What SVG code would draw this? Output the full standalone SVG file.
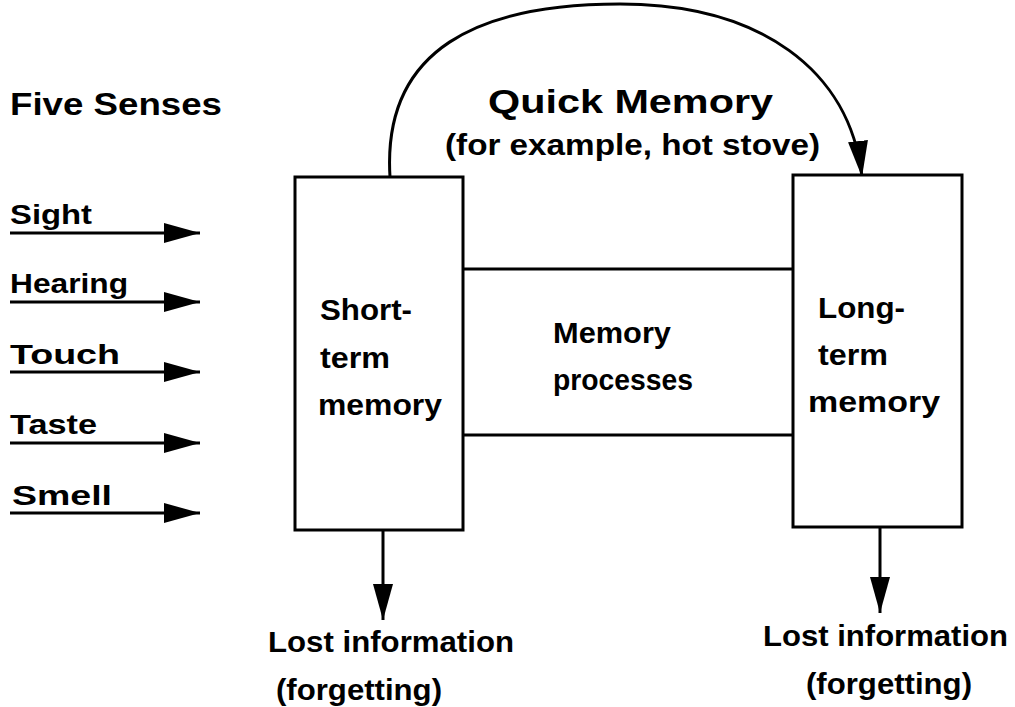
<svg xmlns="http://www.w3.org/2000/svg" width="1015" height="707" viewBox="0 0 1015 707">
<style>
text{font-family:"Liberation Sans",Arial,sans-serif;font-weight:bold;fill:#000}
.t{font-size:30px}
.s{font-size:28px}
.line{stroke:#000;stroke-width:3;fill:none}
.box{stroke:#000;stroke-width:3;fill:#fff}
</style>
<defs>
<marker id="ah" viewBox="0 0 36 20" refX="36" refY="10" markerWidth="36" markerHeight="20" markerUnits="userSpaceOnUse" orient="auto">
<path d="M0,0 L36,10 L0,20 Z" fill="#000"/>
</marker>
</defs>
<rect width="1015" height="707" fill="#fff"/>
<text x="10" y="115" style="font-size:32px" textLength="212" lengthAdjust="spacingAndGlyphs">Five Senses</text>
<g id="connectors">
<path class="line" d="M390,177 C382,48 480,4 620,4 C760,4 850,70 862,177" marker-end="url(#ah)"/>
<line class="line" x1="10" y1="233" x2="200" y2="233" marker-end="url(#ah)"/>
<line class="line" x1="10" y1="302" x2="200" y2="302" marker-end="url(#ah)"/>
<line class="line" x1="10" y1="372" x2="200" y2="372" marker-end="url(#ah)"/>
<line class="line" x1="10" y1="443" x2="200" y2="443" marker-end="url(#ah)"/>
<line class="line" x1="10" y1="513" x2="200" y2="513" marker-end="url(#ah)"/>
<line class="line" x1="383" y1="530" x2="383" y2="620" marker-end="url(#ah)"/>
<line class="line" x1="880" y1="527" x2="880" y2="613" marker-end="url(#ah)"/>
</g>
<g id="senses">
<text class="s" x="10" y="224" textLength="82" lengthAdjust="spacingAndGlyphs">Sight</text>
<text class="s" x="10" y="293" textLength="118" lengthAdjust="spacingAndGlyphs">Hearing</text>
<text class="s" x="10" y="364" textLength="110" lengthAdjust="spacingAndGlyphs">Touch</text>
<text class="s" x="10" y="434" textLength="87" lengthAdjust="spacingAndGlyphs">Taste</text>
<text class="s" x="12" y="505" textLength="100" lengthAdjust="spacingAndGlyphs">Smell</text>
</g>
<g id="quick-memory">
<text x="488" y="113" style="font-size:34px" textLength="285" lengthAdjust="spacingAndGlyphs">Quick Memory</text>
<text x="445" y="155" class="t" textLength="375" lengthAdjust="spacingAndGlyphs">(for example, hot stove)</text>
</g>
<g id="memory-processes">
<line class="line" x1="463" y1="269" x2="793" y2="269"/>
<line class="line" x1="463" y1="435" x2="793" y2="435"/>
<text class="t" x="553" y="343" textLength="118" lengthAdjust="spacingAndGlyphs">Memory</text>
<text class="t" x="553" y="390" textLength="140" lengthAdjust="spacingAndGlyphs">processes</text>
</g>
<g id="short-term">
<rect class="box" x="295" y="177" width="168" height="353"/>
<text class="t" x="320" y="320" textLength="92" lengthAdjust="spacingAndGlyphs">Short-</text>
<text class="t" x="320" y="368" textLength="70" lengthAdjust="spacingAndGlyphs">term</text>
<text class="t" x="318" y="415" textLength="124" lengthAdjust="spacingAndGlyphs">memory</text>
</g>
<g id="long-term">
<rect class="box" x="793" y="175" width="169" height="352"/>
<text class="t" x="818" y="318" textLength="87" lengthAdjust="spacingAndGlyphs">Long-</text>
<text class="t" x="818" y="365" textLength="70" lengthAdjust="spacingAndGlyphs">term</text>
<text class="t" x="808" y="412" textLength="132" lengthAdjust="spacingAndGlyphs">memory</text>
</g>
<g id="lost-left">
<text class="t" x="268" y="652" textLength="246" lengthAdjust="spacingAndGlyphs">Lost information</text>
<text class="t" x="276" y="700" textLength="166" lengthAdjust="spacingAndGlyphs">(forgetting)</text>
</g>
<g id="lost-right">
<text class="t" x="763" y="646" textLength="245" lengthAdjust="spacingAndGlyphs">Lost information</text>
<text class="t" x="806" y="694" textLength="166" lengthAdjust="spacingAndGlyphs">(forgetting)</text>
</g>
</svg>
